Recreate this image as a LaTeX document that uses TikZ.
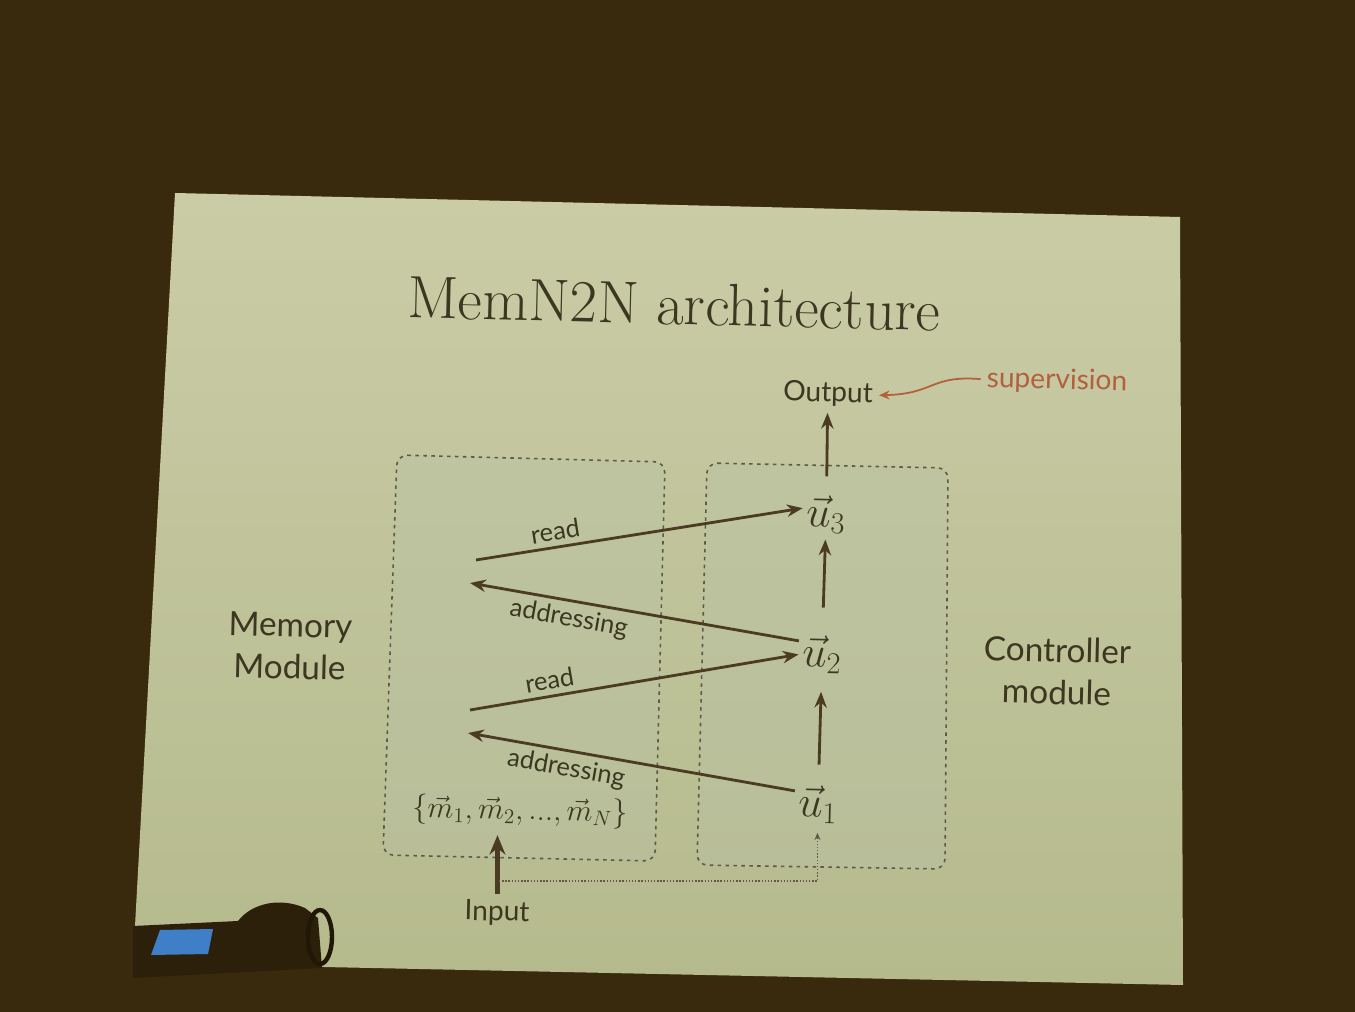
\documentclass[tikz,border=0pt]{standalone}
\usepackage{fontspec}
\setsansfont{Lato}
\usetikzlibrary{arrows.meta, calc}
\definecolor{Backdrop} {HTML}{3A2A0D}
\definecolor{SlideTop} {HTML}{CACCA6}
\definecolor{SlideBot} {HTML}{B5BA8D}
\definecolor{InkDark}  {HTML}{3B3720}
\definecolor{ArrowBrn} {HTML}{4A3B22}
\definecolor{DashGry}  {HTML}{5E5A45}
\definecolor{SuperRed} {HTML}{B2603E}
\definecolor{BoxTint}  {HTML}{B9C2A8}
\definecolor{ScreenBlu}{HTML}{3F7FC8}

\begin{document}
\begin{tikzpicture}[
  x=0.2mm, y=-0.2mm,
  font=\sffamily, >=Stealth,
  every node/.style={align=center, text=InkDark},
  tilt/.style   = {rotate=-1.4},
  modlbl/.style = {tilt, font=\fontsize{19}{24}\selectfont\sffamily},
  io/.style     = {tilt, font=\fontsize{16}{19}\selectfont\sffamily},
  vecnd/.style  = {tilt, font=\fontsize{25}{30}\selectfont, inner sep=2pt},
  edgelbl/.style= {font=\fontsize{14.5}{17}\selectfont\sffamily, sloped, inner sep=3pt},
  flow/.style   = {line width=1.6pt, ArrowBrn, -{Stealth[length=9pt, width=7pt]}},
  feed/.style   = {densely dotted, line width=0.8pt, DashGry,
                   -{Stealth[length=4pt, width=3.5pt]}},
  modbox/.style = {draw=DashGry, dash pattern=on 2pt off 2.5pt, line width=0.9pt,
                   rounded corners=6pt, fill=BoxTint, fill opacity=0.35},
]
\useasboundingbox (0,0) rectangle (1355,1012);

% ── Room and screen ───────────────────────────────────────────────────────────
\fill[Backdrop] (0,0) rectangle (1355,1012);
\shade[top color=SlideTop, bottom color=SlideBot]
  (175,193) -- (1180,217) -- (1183,985) -- (133,963) -- cycle;

% ── Projector in front ────────────────────────────────────────────────────────
\fill[Backdrop!75!black]
  (133,926) -- (238,921) .. controls (252,903) and (280,897) .. (305,908)
  -- (318,918) -- (322,968) -- (133,978) -- cycle;
\draw[Backdrop!55!black, line width=2.5pt] (320,937) ellipse [x radius=12, y radius=27];
\fill[ScreenBlu] (151,955) -- (160,930) -- (213,929) -- (208,954) -- cycle;

% ── Title ─────────────────────────────────────────────────────────────────────
\node[tilt, font=\fontsize{34}{40}\selectfont\rmfamily] (title) at (674,304)
  {MemN2N architecture};

% ── Modules ───────────────────────────────────────────────────────────────────
\path[modbox] (397,455) -- (665,462) -- (655,861) -- (383,855) -- cycle;
\path[modbox] (707,463) -- (948,468) -- (945,869) -- (697,865) -- cycle;

\node[modlbl] (memlbl) at (290,646)  {Memory\\Module};
\node[modlbl] (ctllbl) at (1057,671) {Controller\\module};

% ── Nodes ─────────────────────────────────────────────────────────────────────
\node[io]                (out)  at (828,394)  {Output};
\node[io, text=SuperRed] (sup)  at (1057,381) {supervision};
\node[vecnd]             (u3)   at (826,515)  {$\vec{u}_3$};
\node[vecnd]             (u2)   at (822,655)  {$\vec{u}_2$};
\node[vecnd]             (u1)   at (818,805)  {$\vec{u}_1$};
\node[tilt, font=\fontsize{18}{22}\selectfont] (mset) at (520,812)
  {$\{\vec{m}_1, \vec{m}_2, ..., \vec{m}_N\}$};
\node[io]                (inp)  at (497,913)  {Input};

\coordinate (r3) at (476,560);
\coordinate (a2) at (470,583);
\coordinate (r2) at (470,710);
\coordinate (a1) at (468,733);
\coordinate (split) at (499,881);

% ── Read / addressing ─────────────────────────────────────────────────────────
\draw[flow] (r3) -- node[edgelbl, above, pos=0.25]{read} (u3.165);
\draw[flow] (u2.150) -- node[edgelbl, below, pos=0.69]{addressing} (a2);
\draw[flow] (r2) -- node[edgelbl, above, pos=0.25]{read} (u2.west);
\draw[flow] (u1.150) -- node[edgelbl, below, pos=0.69]{addressing} (a1);

% ── Controller chain ──────────────────────────────────────────────────────────
\draw[flow, shorten <=10pt, shorten >=8pt] (u1.north) -- (u2.south);
\draw[flow, shorten <=14pt, shorten >=1pt] (u2.north) -- (u3.south);
\draw[flow, shorten <=9pt] (u3.north) -- (out.south);

\draw[SuperRed, line width=1pt, -{Stealth[length=6pt, width=5pt]}]
  (sup.west) .. controls (930,375) and (935,394) .. (out.east);

% ── Input ─────────────────────────────────────────────────────────────────────
\draw[line width=2.6pt, ArrowBrn, -{Stealth[length=11pt, width=9pt]}, shorten >=1pt]
  (inp.north) -- (inp.north |- mset.south);
\draw[feed, shorten >=3pt] (split) -| (u1.south);

\end{tikzpicture}
\end{document}
